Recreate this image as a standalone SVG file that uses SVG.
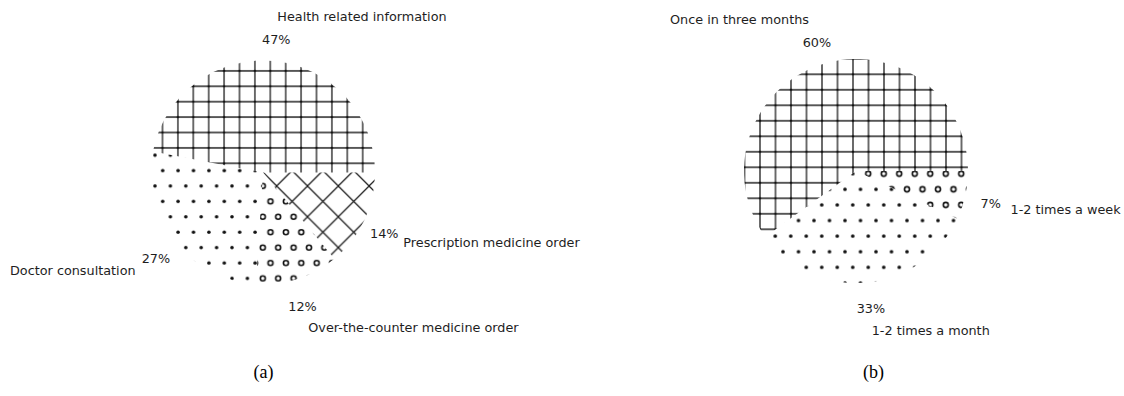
<svg xmlns="http://www.w3.org/2000/svg" width="1124" height="396" viewBox="0 0 1124 396">
<style>
.lbl{font-family:"DejaVu Sans","Noto Sans",sans-serif;font-size:12.8px;fill:#1e1e1e}
.cap{font-family:"Liberation Serif","Times New Roman",serif;font-size:18px;fill:#000;text-anchor:middle}
.hl{stroke:#1e1e1e;stroke-width:1.3;fill:none}
.dt{fill:#111}
.ring{fill:none;stroke:#111;stroke-width:1.6}
</style>
<defs>
<pattern id="gridA" patternUnits="userSpaceOnUse" x="185.6" y="155.6" width="15.4" height="15.4">
<path class="hl" d="M7.7 0V15.4M0 7.7H15.4"/><circle class="dt" cx="7.7" cy="7.7" r="1.3"/>
</pattern>
<pattern id="gridB" patternUnits="userSpaceOnUse" x="752.25" y="159.55" width="15.5" height="15.5">
<path class="hl" d="M7.75 0V15.5M0 7.75H15.5"/><circle class="dt" cx="7.75" cy="7.75" r="1.3"/>
</pattern>
<pattern id="dotsA" patternUnits="userSpaceOnUse" x="151.15" y="178.3" width="15.4" height="30.8">
<circle class="dt" cx="3.85" cy="7.7" r="1.8"/><circle class="dt" cx="11.55" cy="23.1" r="1.8"/>
</pattern>
<pattern id="ringsA" patternUnits="userSpaceOnUse" x="151.15" y="178.3" width="15.4" height="30.8">
<circle class="ring" cx="3.85" cy="7.7" r="2.5"/><circle class="ring" cx="11.55" cy="23.1" r="2.5"/>
</pattern>
<pattern id="xA" patternUnits="userSpaceOnUse" x="276.7" y="186" width="30.8" height="30.8">
<path class="hl" d="M-1 -1L31.8 31.8M31.8 -1L-1 31.8"/>
</pattern>
<pattern id="dotsB" patternUnits="userSpaceOnUse" x="841.125" y="181.5" width="15.5" height="31.2">
<circle class="dt" cx="3.875" cy="7.8" r="1.8"/><circle class="dt" cx="11.625" cy="23.4" r="1.8"/>
</pattern>
<pattern id="ringsB" patternUnits="userSpaceOnUse" x="841.125" y="181.5" width="15.5" height="31.2">
<circle class="ring" cx="3.875" cy="7.8" r="2.5"/><circle class="ring" cx="11.625" cy="23.4" r="2.5"/>
</pattern>
</defs>
<rect width="1124" height="396" fill="#fff"/>

<g id="pie-a">
<g id="a-health">
<path fill="url(#gridA)" d="M263 172.5L375 172.5A112 112 0 0 0 152.98 151.51Z"/>
<text class="lbl" x="277.3" y="20.7">Health related information</text>
<text class="lbl" x="262" y="44">47%</text>
</g>
<g id="a-doctor">
<path fill="url(#dotsA)" d="M263 172.5L152.98 151.51A112 112 0 0 0 255.97 284.28Z"/>
<text class="lbl" x="10" y="275">Doctor consultation</text>
<text class="lbl" x="141.7" y="262.7">27%</text>
</g>
<g id="a-otc">
<path fill="url(#ringsA)" d="M263 172.5L255.97 284.28A112 112 0 0 0 334.39 258.8Z"/>
<text class="lbl" x="288.3" y="310.7">12%</text>
<text class="lbl" x="308.3" y="331.7">Over-the-counter medicine order</text>
</g>
<g id="a-prescription">
<path fill="url(#xA)" d="M263 172.5L334.39 258.8A112 112 0 0 0 375 172.5Z"/>
<text class="lbl" x="370" y="238.3">14%</text>
<text class="lbl" x="403.3" y="246.7">Prescription medicine order</text>
</g>
<text id="cap-a" class="cap" x="263.5" y="378">(a)</text>
</g>

<g id="pie-b">
<g id="b-three-months">
<path fill="url(#gridB)" d="M856 171L968 171A112 112 0 1 0 765.39 236.83Z"/>
<text class="lbl" x="670" y="24.3">Once in three months</text>
<text class="lbl" x="802.7" y="46.7">60%</text>
</g>
<g id="b-month">
<path fill="url(#dotsB)" d="M856 171L765.39 236.83A112 112 0 0 0 957.34 218.69Z"/>
<text class="lbl" x="856.7" y="313.3">33%</text>
<text class="lbl" x="871.7" y="335">1-2 times a month</text>
</g>
<g id="b-week">
<path fill="url(#ringsB)" d="M856 171L957.34 218.69A112 112 0 0 0 968 171Z"/>
<text class="lbl" x="980.5" y="208">7%</text>
<text class="lbl" x="1010.5" y="214">1-2 times a week</text>
</g>
<text id="cap-b" class="cap" x="873.5" y="378">(b)</text>
</g>
<g id="connectors"/>
</svg>
